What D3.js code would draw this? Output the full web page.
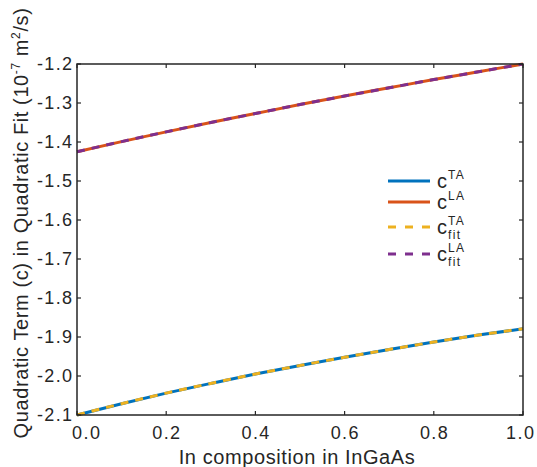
<!DOCTYPE html>
<html>
<head>
<meta charset="utf-8">
<script src="https://cdn.jsdelivr.net/npm/d3@7"></script>
<style>
  body { margin: 0; background: #fff; }
  svg { font-family: "Liberation Sans", Arial, sans-serif; }
  .spaced { letter-spacing: 1.4px; }
  .title { letter-spacing: 0.6px; }
</style>
</head>
<body>
<svg id="chart" width="537" height="467"></svg>
<script>
const composition = [0, 0.1, 0.2, 0.3, 0.4, 0.5, 0.6, 0.7, 0.8, 0.9, 1.0];
const cTA = [-2.100, -2.071, -2.044, -2.019, -1.995, -1.973, -1.952, -1.932, -1.913, -1.895, -1.879];
const cLA = [-1.425, -1.399, -1.374, -1.350, -1.327, -1.304, -1.282, -1.261, -1.240, -1.220, -1.200];
const cTAfit = [-2.100, -2.071, -2.044, -2.019, -1.995, -1.973, -1.952, -1.932, -1.913, -1.895, -1.879];
const cLAfit = [-1.425, -1.399, -1.374, -1.350, -1.327, -1.304, -1.282, -1.261, -1.240, -1.220, -1.200];
const xTicks = [0, 0.2, 0.4, 0.6, 0.8, 1.0];
const yTicks = [-1.2, -1.3, -1.4, -1.5, -1.6, -1.7, -1.8, -1.9, -2.0, -2.1];

const series = [
  { name: "TA", sub: "", values: cTA, color: "#0072BD", dash: null },
  { name: "LA", sub: "", values: cLA, color: "#D95319", dash: null },
  { name: "TA", sub: "fit", values: cTAfit, color: "#EDB120", dash: "8,7" },
  { name: "LA", sub: "fit", values: cLAfit, color: "#7E2F8E", dash: "8,7" }
];

const plotLeft = 77, plotRight = 523, plotTop = 64, plotBottom = 415;
const axisColor = "#262626";

const svg = d3.select("#chart");

const x = d3.scaleLinear().domain([0, 1]).range([plotLeft, plotRight]);
const y = d3.scaleLinear().domain([-2.1, -1.2]).range([plotBottom, plotTop]);

// lines
const line = d3.line()
    .x((d, i) => x(composition[i]))
    .y(d => y(d))
    .curve(d3.curveMonotoneX);

series.forEach(s => {
  svg.append("path")
      .attr("d", line(s.values))
      .attr("fill", "none")
      .attr("stroke", s.color)
      .attr("stroke-width", 3)
      .attr("stroke-dasharray", s.dash);
});

// box
svg.append("rect")
    .attr("x", plotLeft)
    .attr("y", plotTop)
    .attr("width", plotRight - plotLeft)
    .attr("height", plotBottom - plotTop)
    .attr("fill", "none")
    .attr("stroke", axisColor)
    .attr("stroke-width", 1.5);

// ticks, inward on all four sides
const tickLen = 4;
xTicks.forEach(t => {
  svg.append("line").attr("x1", x(t)).attr("x2", x(t)).attr("y1", plotBottom).attr("y2", plotBottom - tickLen)
      .attr("stroke", axisColor).attr("stroke-width", 1.2);
  svg.append("line").attr("x1", x(t)).attr("x2", x(t)).attr("y1", plotTop).attr("y2", plotTop + tickLen)
      .attr("stroke", axisColor).attr("stroke-width", 1.2);
});
yTicks.forEach(t => {
  svg.append("line").attr("x1", plotLeft).attr("x2", plotLeft + tickLen).attr("y1", y(t)).attr("y2", y(t))
      .attr("stroke", axisColor).attr("stroke-width", 1.2);
  svg.append("line").attr("x1", plotRight).attr("x2", plotRight - tickLen).attr("y1", y(t)).attr("y2", y(t))
      .attr("stroke", axisColor).attr("stroke-width", 1.2);
});

// tick labels
svg.selectAll(".xlabel")
  .data(xTicks)
  .join("text")
    .attr("class", "xlabel spaced")
    .attr("x", d => x(d) + (d === 0 ? 9 : d === 1 ? -3 : 0) + 0.7)
    .attr("y", 439)
    .attr("text-anchor", "middle")
    .attr("font-size", 18)
    .attr("fill", axisColor)
    .text(d => d.toFixed(1));

svg.selectAll(".ylabel")
  .data(yTicks)
  .join("text")
    .attr("class", "ylabel spaced")
    .attr("x", 73.5)
    .attr("y", d => y(d))
    .attr("dy", "0.36em")
    .attr("text-anchor", "end")
    .attr("font-size", 18)
    .attr("fill", axisColor)
    .text(d => d.toFixed(1));

// axis titles
svg.append("text")
    .attr("class", "title")
    .attr("x", 297)
    .attr("y", 464)
    .attr("text-anchor", "middle")
    .attr("font-size", 20)
    .attr("fill", axisColor)
    .text("In composition in InGaAs");

const yTitle = svg.append("text")
    .attr("class", "title")
    .attr("transform", "translate(28,223) rotate(-90)")
    .attr("text-anchor", "middle")
    .attr("font-size", 20)
    .attr("fill", axisColor);
yTitle.append("tspan").text("Quadratic Term (c) in Quadratic Fit (10");
yTitle.append("tspan").attr("dy", -8).attr("font-size", 12).text("-7");
yTitle.append("tspan").attr("dy", 8).text(" m");
yTitle.append("tspan").attr("dy", -8).attr("font-size", 12).text("2");
yTitle.append("tspan").attr("dy", 8).text("/s)");

// legend
const legendY = [181, 202, 227, 254];
series.forEach((s, i) => {
  const ly = legendY[i];
  svg.append("line")
      .attr("x1", 388).attr("x2", 430)
      .attr("y1", ly).attr("y2", ly)
      .attr("stroke", s.color)
      .attr("stroke-width", 3)
      .attr("stroke-dasharray", s.dash ? "8,9" : null);
  svg.append("text")
      .attr("x", 437)
      .attr("y", ly + 7)
      .attr("font-size", 20)
      .attr("fill", axisColor)
      .text("c");
  svg.append("text")
      .attr("class", "spaced")
      .attr("x", 448)
      .attr("y", ly - 2)
      .attr("font-size", 12)
      .attr("fill", axisColor)
      .text(s.name);
  if (s.sub) {
    svg.append("text")
        .attr("class", "spaced")
        .attr("x", 448)
        .attr("y", ly + 12)
        .attr("font-size", 12)
        .attr("fill", axisColor)
        .text(s.sub);
  }
});
</script>
</body>
</html>
